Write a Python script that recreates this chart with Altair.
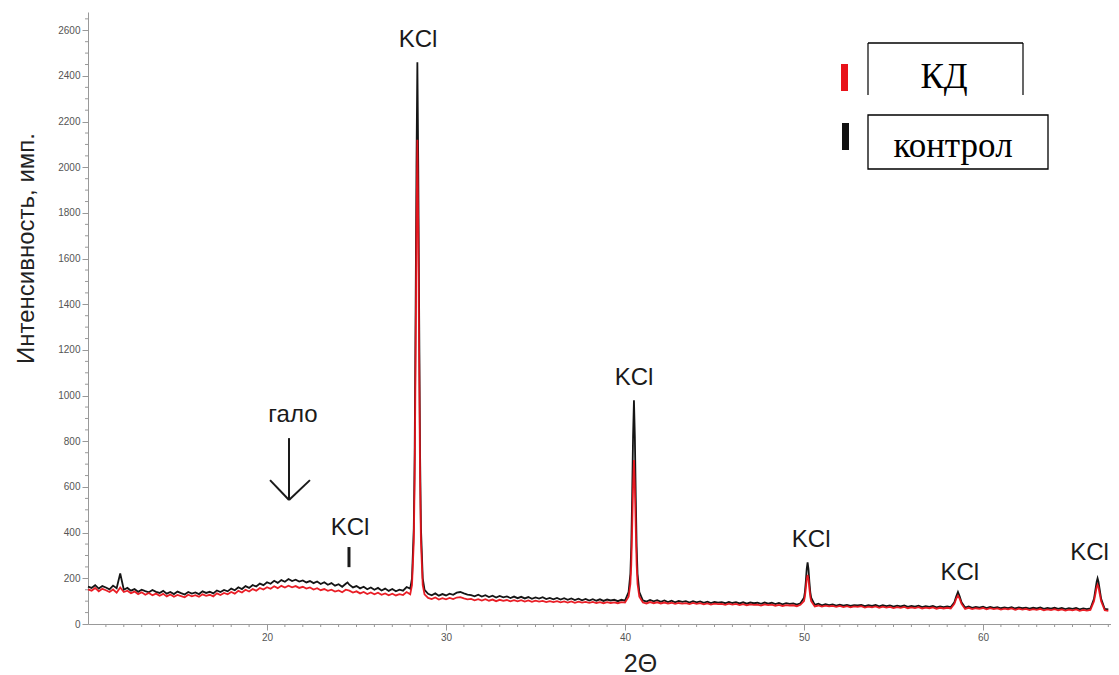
import altair as alt
import pandas as pd

# ---------------- data ----------------
# 2-theta scan grid: instrument step 0.2 deg from 10.0 to 67.0
theta_start = 10.0
theta_step = 0.2
n_grid = 286
grid_theta = [round(theta_start + theta_step * i, 1) for i in range(n_grid)]

# "контрол" (black) intensity at each grid point
control_grid = [
    164, 158, 170, 155, 166, 160, 152, 168, 157, 221,   # 10.0-11.8
    150, 158, 146, 153, 141, 150, 144, 139, 149, 141,   # 12.0-13.8
    136, 145, 133, 140, 131, 142, 135, 129, 140, 133,   # 14.0-15.8
    138, 131, 143, 136, 141, 134, 147, 140, 149, 143,   # 16.0-17.8
    155, 148, 161, 153, 166, 158, 171, 164, 177, 170,   # 18.0-19.8
    183, 176, 189, 180, 192, 185, 197, 188, 194, 186,   # 20.0-21.8
    191, 182, 188, 179, 186, 175, 183, 172, 179, 168,   # 22.0-23.8
    174, 163, 176, 172, 160, 166, 156, 163, 152, 160,   # 24.0-25.8
    150, 158, 147, 155, 145, 153, 143, 150, 146, 162,   # 26.0-27.8
    155, 420, 2460, 420, 150, 132, 126, 134, 124, 131,  # 28.0-29.8
    125, 133, 128, 137, 140, 134, 129, 126, 121, 128,   # 30.0-31.8
    120, 126, 118, 124, 116, 123, 117, 121, 114, 120,   # 32.0-33.8
    113, 119, 112, 118, 110, 116, 111, 117, 109, 114,   # 34.0-35.8
    108, 114, 107, 113, 106, 112, 105, 111, 104, 110,   # 36.0-37.8
    103, 109, 102, 108, 101, 107, 103, 106, 100, 106,   # 38.0-39.8
    102, 140, 560, 560, 140, 103, 98, 105, 99, 104,     # 40.0-41.8
    97, 103, 96, 102, 95, 101, 97, 100, 94, 100,        # 42.0-43.8
    95, 99, 93, 98, 92, 97, 94, 96, 91, 97,             # 44.0-45.8
    92, 96, 90, 95, 89, 94, 91, 93, 88, 94,             # 46.0-47.8
    89, 93, 87, 92, 86, 91, 88, 90, 85, 91,             # 48.0-49.8
    115, 270, 115, 84, 89, 82, 87, 83, 86, 81,          # 50.0-51.8
    85, 80, 84, 79, 83, 81, 84, 78, 82, 79,             # 52.0-53.8
    83, 77, 82, 78, 81, 76, 80, 77, 81, 75,             # 54.0-55.8
    79, 76, 80, 74, 78, 75, 79, 73, 77, 74,             # 56.0-57.8
    77, 74, 95, 140, 95, 72, 77, 71, 75, 72,            # 58.0-59.8
    76, 70, 75, 71, 74, 69, 73, 70, 74, 68,             # 60.0-61.8
    73, 69, 72, 67, 71, 68, 72, 66, 70, 67,             # 62.0-63.8
    71, 66, 70, 65, 69, 66, 70, 64, 68, 65,             # 64.0-65.8
    68, 110, 200, 110, 66, 64,                          # 66.0-67.0
]

# "КД" (red) intensity at each grid point
kd_grid = [
    152, 146, 158, 143, 154, 148, 140, 151, 137, 160,
    140, 146, 135, 142, 131, 139, 128, 136, 126, 133,
    124, 132, 121, 129, 119, 127, 122, 117, 128, 121,
    126, 119, 130, 123, 128, 121, 134, 127, 136, 130,
    140, 133, 145, 138, 150, 142, 153, 146, 158, 151,
    161, 154, 165, 157, 167, 160, 168, 161, 166, 158,
    163, 155, 160, 151, 157, 148, 153, 145, 150, 142,
    147, 139, 150, 146, 138, 143, 134, 140, 131, 138,
    130, 137, 128, 134, 126, 133, 125, 131, 127, 140,
    130, 360, 2120, 360, 130, 114, 109, 116, 107, 113,
    108, 114, 109, 116, 118, 112, 108, 110, 104, 109,
    103, 109, 102, 107, 100, 106, 101, 105, 99, 104,
    99, 104, 98, 103, 97, 102, 98, 101, 96, 100,
    96, 100, 95, 99, 94, 99, 93, 98, 94, 97,
    93, 97, 92, 96, 91, 96, 92, 95, 91, 96,
    94, 120, 420, 420, 120, 94, 90, 96, 91, 95,
    90, 94, 89, 93, 88, 92, 89, 91, 87, 92,
    88, 91, 86, 90, 85, 89, 87, 88, 84, 89,
    85, 88, 83, 87, 82, 86, 84, 85, 81, 86,
    83, 85, 80, 84, 79, 83, 81, 82, 78, 84,
    100, 215, 100, 77, 81, 76, 80, 77, 79, 75,
    79, 74, 78, 73, 77, 75, 78, 72, 76, 73,
    77, 71, 76, 72, 75, 70, 74, 71, 75, 69,
    73, 70, 74, 68, 72, 69, 73, 67, 71, 68,
    71, 68, 88, 124, 88, 66, 71, 65, 69, 66,
    70, 64, 69, 65, 68, 63, 67, 64, 68, 62,
    67, 63, 66, 61, 65, 62, 66, 60, 64, 61,
    65, 60, 64, 59, 63, 60, 64, 58, 62, 59,
    62, 100, 172, 100, 60, 58,
]

# finer points read across the KCl reflections
extra_theta = [24.5,
               28.1, 28.25, 28.3, 28.35, 28.45, 28.5, 28.55, 28.7,
               40.3, 40.35, 40.45, 40.5, 40.55, 40.65, 40.7,
               50.05, 50.1, 50.15, 50.25, 50.3, 50.35,
               58.5, 58.7,
               66.3, 66.35, 66.45, 66.5]
extra_control = [182,
                 200, 750, 1350, 2000, 2000, 1350, 750, 200,
                 220, 340, 820, 980, 820, 340, 220,
                 140, 185, 240, 240, 185, 140,
                 120, 120,
                 160, 185, 185, 160]
extra_kd = [148,
            170, 640, 1160, 1720, 1720, 1160, 640, 170,
            175, 260, 600, 718, 600, 260, 175,
            120, 155, 195, 195, 155, 120,
            110, 110,
            140, 162, 162, 140]

assert len(grid_theta) == len(control_grid) == len(kd_grid)
assert len(extra_theta) == len(extra_control) == len(extra_kd)

# axis ticks
x_major = [20, 30, 40, 50, 60]
x_minor = [v for v in range(11, 68) if v % 10 != 0]
y_major = list(range(0, 2601, 200))
y_minor = [v for v in range(50, 2651, 50) if v % 200 != 0]

# annotations
kcl_theta = [24.64, 28.44, 40.5, 50.4, 58.7, 65.95]
kcl_value = [420, 2556, 1077, 368, 223, 311]
halo_theta = [21.45]
halo_value = [915]
arrow_x1 = [21.23, 20.17, 22.4]
arrow_y1 = [814, 630, 630]
arrow_x2 = [21.23, 21.23, 21.23]
arrow_y2 = [543, 543, 543]
bar_theta = [24.58]
bar_low = [249]
bar_high = [337]

# ---------------- build frames ----------------
theta_all = grid_theta + extra_theta
df_control = pd.DataFrame({"theta": theta_all, "I": control_grid + extra_control}).sort_values("theta")
df_kd = pd.DataFrame({"theta": theta_all, "I": kd_grid + extra_kd}).sort_values("theta")

W, H = 1023, 612
FONT = "Liberation Sans"

xscale = alt.Scale(domain=[10, 67.15], nice=False, zero=False)
yscale = alt.Scale(domain=[0, 2680], nice=False, zero=False)

x_axis = alt.Axis(values=x_major, title="2Θ", labelFontSize=10, tickSize=6, format="d",
                  labelPadding=2, titleFontSize=25, titleX=552, titleY=39,
                  titleBaseline="middle", titleAlign="center", labelFlush=False)
y_axis = alt.Axis(values=y_major, title="Интенсивность, имп.", labelFontSize=10, format="d",
                  tickSize=6, labelPadding=2, titleFontSize=24, titleAngle=270,
                  titleX=-62, titleY=236, titleBaseline="middle", titleAlign="center",
                  labelFlush=False)


def X(field):
    return alt.X(field, scale=xscale, axis=x_axis)


def Y(field):
    return alt.Y(field, scale=yscale, axis=y_axis)


control_line = alt.Chart(df_control).mark_line(color="#151515", strokeWidth=1.8).encode(
    x=X("theta:Q"), y=Y("I:Q"))
kd_line = alt.Chart(df_kd).mark_line(color="#e8121a", strokeWidth=1.8, opacity=0.95).encode(
    x=X("theta:Q"), y=Y("I:Q"))

ymin_rules = alt.Chart(pd.DataFrame({"v": y_minor})).mark_rule(color="#999", strokeWidth=1).encode(
    y=Y("v:Q"), x=alt.value(-3), x2=alt.value(0))
xmin_rules = alt.Chart(pd.DataFrame({"v": x_minor})).mark_rule(color="#999", strokeWidth=1).encode(
    x=X("v:Q"), y=alt.value(H), y2=alt.value(H + 3))

kcl_text = alt.Chart(pd.DataFrame({"t": kcl_theta, "v": kcl_value, "s": ["KCl"] * len(kcl_theta)})).mark_text(
    font=FONT, fontSize=24, color="#1a1a1a", baseline="middle", align="center").encode(
    x=X("t:Q"), y=Y("v:Q"), text="s:N")
halo_text = alt.Chart(pd.DataFrame({"t": halo_theta, "v": halo_value, "s": ["гало"]})).mark_text(
    font=FONT, fontSize=24, color="#1a1a1a", baseline="middle", align="center").encode(
    x=X("t:Q"), y=Y("v:Q"), text="s:N")
arrow = alt.Chart(pd.DataFrame({"x1": arrow_x1, "y1": arrow_y1, "x2": arrow_x2, "y2": arrow_y2})).mark_rule(
    color="#1a1a1a", strokeWidth=2).encode(
    x=X("x1:Q"), y=Y("y1:Q"), x2="x2:Q", y2="y2:Q")
bar = alt.Chart(pd.DataFrame({"t": bar_theta, "lo": bar_low, "hi": bar_high})).mark_rule(
    color="#1a1a1a", strokeWidth=3).encode(
    x=X("t:Q"), y=Y("lo:Q"), y2="hi:Q")

# ---------------- legend (pixel positions inside plot) ----------------
one = pd.DataFrame({"k": [0]})
OX, OY = 88, 12  # plot origin on page
leg_red = alt.Chart(one).mark_rect(color="#e8121a").encode(
    x=alt.value(841 - OX), x2=alt.value(848 - OX), y=alt.value(64 - OY), y2=alt.value(91 - OY))
leg_black = alt.Chart(one).mark_rect(color="#111").encode(
    x=alt.value(842 - OX), x2=alt.value(849 - OX), y=alt.value(123 - OY), y2=alt.value(150 - OY))
box1_top = alt.Chart(one).mark_rule(color="#000", strokeWidth=1.5).encode(
    x=alt.value(868 - OX), x2=alt.value(1023 - OX), y=alt.value(43 - OY))
box1_left = alt.Chart(one).mark_rule(color="#000", strokeWidth=1.2).encode(
    x=alt.value(868 - OX), y=alt.value(43 - OY), y2=alt.value(95 - OY))
box1_right = alt.Chart(one).mark_rule(color="#000", strokeWidth=1.2).encode(
    x=alt.value(1023 - OX), y=alt.value(43 - OY), y2=alt.value(95 - OY))
box2 = alt.Chart(one).mark_rect(fill="white", stroke="#000", strokeWidth=1.3).encode(
    x=alt.value(868 - OX), x2=alt.value(1048 - OX), y=alt.value(115 - OY), y2=alt.value(169 - OY))
leg_text1 = alt.Chart(pd.DataFrame({"s": ["КД"]})).mark_text(
    font="Liberation Serif", fontSize=35, color="#000", align="center", baseline="middle").encode(
    x=alt.value(944 - OX), y=alt.value(77 - OY), text="s:N")
leg_text2 = alt.Chart(pd.DataFrame({"s": ["контрол"]})).mark_text(
    font="Liberation Serif", fontSize=35, color="#000", align="center", baseline="middle").encode(
    x=alt.value(953 - OX), y=alt.value(146 - OY), text="s:N")

chart = alt.layer(
    control_line, kd_line, ymin_rules, xmin_rules,
    kcl_text, halo_text, arrow, bar,
    leg_red, leg_black, box1_top, box1_left, box1_right, box2, leg_text1, leg_text2,
).properties(
    width=W, height=H,
    autosize=alt.AutoSizeParams(type="none"),
    padding={"left": 80, "top": 4, "right": 0, "bottom": 51},
).configure_view(stroke=None).configure_axis(
    grid=False, domainColor="#999", tickColor="#999", labelColor="#555",
    labelFont=FONT, titleFont=FONT, titleFontWeight="normal", titleColor="#222",
)

chart.save("out.html", embed_options={"renderer": "svg", "actions": False})
